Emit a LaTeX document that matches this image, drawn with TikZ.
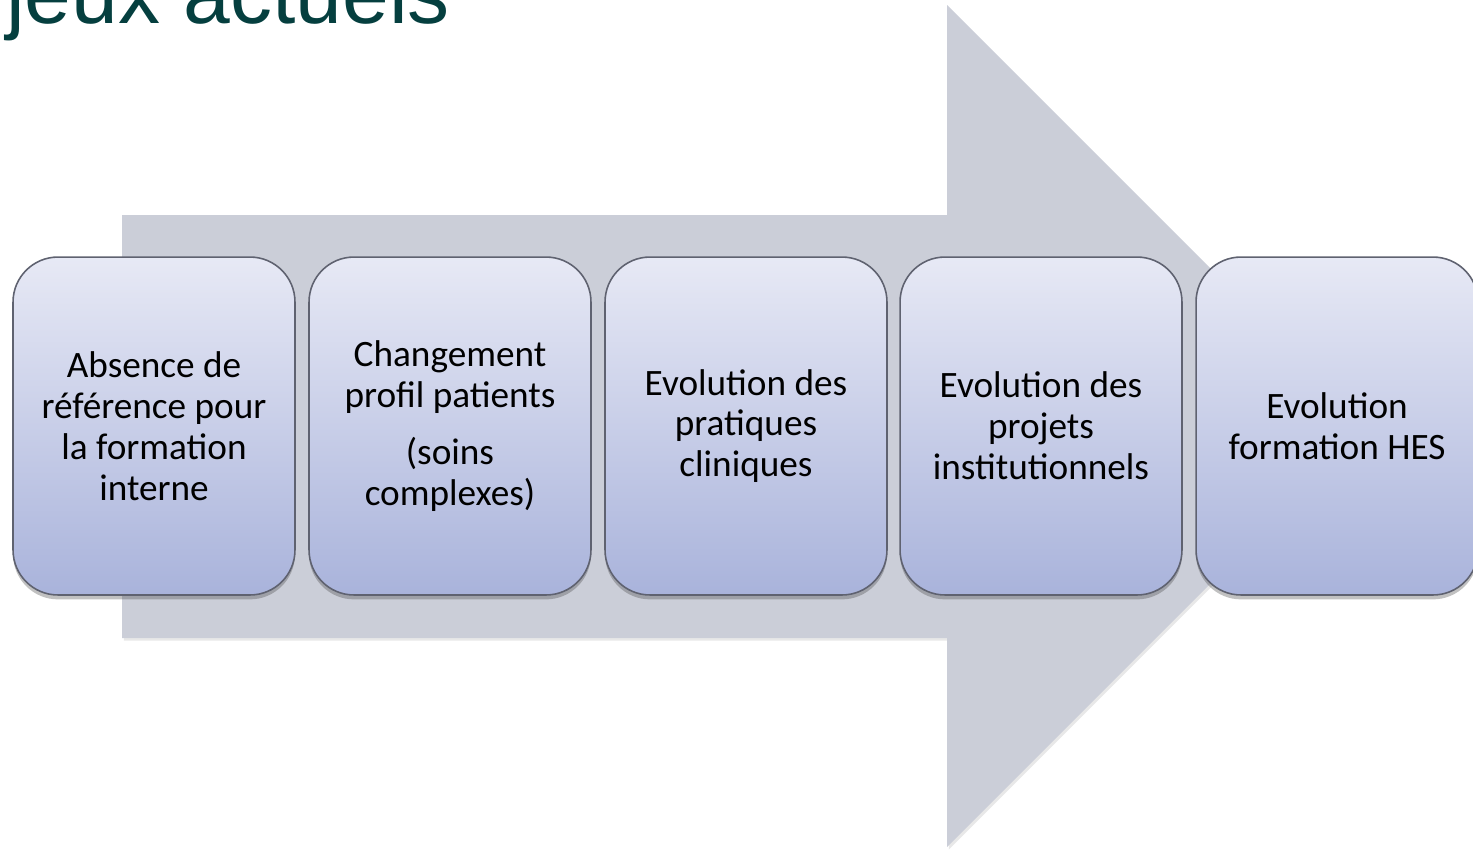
\documentclass[tikz,border=0pt]{standalone}
\usepackage{fontspec}
\setmainfont{Carlito}
\newfontfamily\titlefont{Liberation Sans}
\usetikzlibrary{shadows}
\definecolor{titlecol}{HTML}{053F3F}
\definecolor{arrowcol}{HTML}{CBCED8}
\definecolor{boxtop}{HTML}{E7E9F5}
\definecolor{boxbot}{HTML}{A9B3DB}
\definecolor{boxline}{HTML}{5F6270}
\tikzset{
  stagebox/.style={rectangle, rounded corners=0.9cm, draw=boxline, line width=0.9pt,
    top color=boxtop, bottom color=boxbot, minimum width=5.64cm, minimum height=6.76cm,
    align=center, text=black, font=\fontsize{21.2}{23.3}\selectfont,
    drop shadow={shadow xshift=0pt, shadow yshift=-2.5pt, opacity=0.35, fill=black!70}},
  bigarrow/.style={fill=arrowcol, draw=none,
    drop shadow={shadow xshift=1pt, shadow yshift=-1.5pt, opacity=0.18}}
}
\begin{document}
\begin{tikzpicture}[x=0.02cm, y=-0.02cm]
\useasboundingbox (0,0) rectangle (1473,850);
\node[anchor=base west, inner sep=0pt, text=titlecol, font=\titlefont\fontsize{47.8}{58}\selectfont] (title) at (6,23) {jeux actuels};
\fill[bigarrow] (122,215) -- (947,215) -- (947,5) -- (1368,426) -- (947,847) -- (947,638) -- (122,638) -- cycle;
\node[stagebox] (b1) at (154,426) {Absence de\\référence pour\\la formation\\interne};
\node[stagebox] (b2) at (450,426) {Changement\\profil patients\\[9.6pt](soins\\complexes)};
\node[stagebox] (b3) at (746,426) {Evolution des\\pratiques\\cliniques};
\node[stagebox] (b4) at (1041,426) {Evolution des\\projets\\institutionnels};
\node[stagebox] (b5) at (1337,426) {Evolution\\formation HES};
\end{tikzpicture}
\end{document}
